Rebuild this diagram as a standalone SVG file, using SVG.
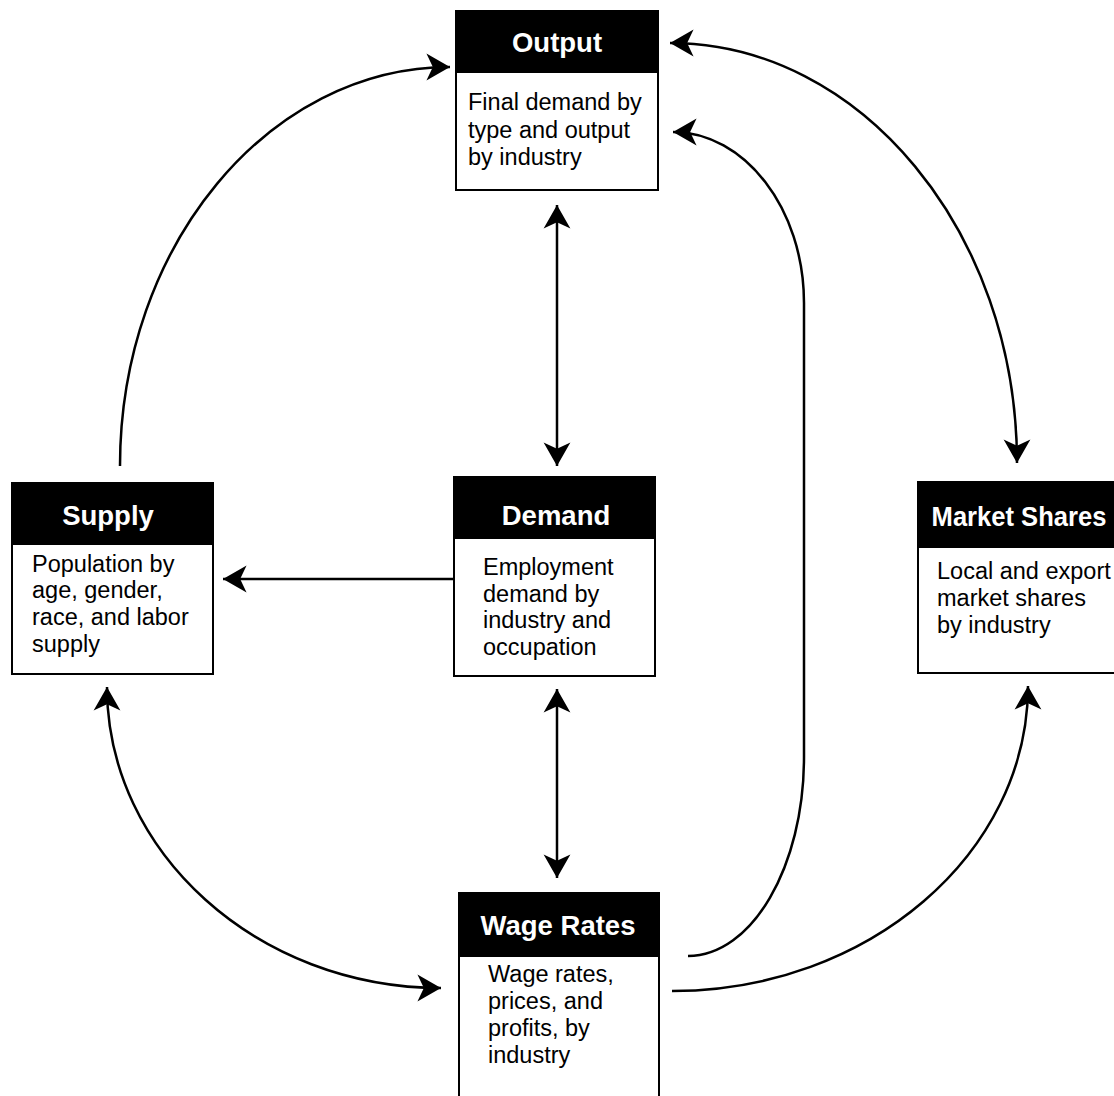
<svg xmlns="http://www.w3.org/2000/svg" width="1114" height="1096" viewBox="0 0 1114 1096">
<style>
.box{fill:#fff;stroke:#000;stroke-width:2}
.hdr{fill:#000;stroke:#000;stroke-width:2}
.ht{font-family:"Liberation Sans",Arial,sans-serif;font-weight:bold;font-size:27.5px;fill:#fff;text-anchor:middle}
.bt{font-family:"Liberation Sans",Arial,sans-serif;font-size:23.5px;fill:#000}
.c{fill:none;stroke:#000;stroke-width:2.5}
</style>
<defs>
<marker id="ah" markerUnits="userSpaceOnUse" markerWidth="30" markerHeight="30" viewBox="-24 -14 26 28" refX="0" refY="0" orient="auto-start-reverse">
<path d="M0,0 L-22,-12.5 L-16,0 L-22,12.5 Z" fill="#000"/>
</marker>
</defs>
<g id="connectors">
<path class="c" d="M120,466 C120,245.6 268.6,67 450,67" marker-end="url(#ah)"/>
<path class="c" d="M670,43 C860.6,43 1017,232 1017,463" marker-start="url(#ah)" marker-end="url(#ah)"/>
<path class="c" d="M688,956 C752,956 804,866.8 804,757 L804,303 C804,208.6 744.4,132 673,132" marker-end="url(#ah)"/>
<path class="c" d="M557,205 L557,466" marker-start="url(#ah)" marker-end="url(#ah)"/>
<path class="c" d="M455,579 L223,579" marker-end="url(#ah)"/>
<path class="c" d="M557,689 L557,878" marker-start="url(#ah)" marker-end="url(#ah)"/>
<path class="c" d="M107,687 C107,852.3 257.5,988 441,988" marker-start="url(#ah)" marker-end="url(#ah)"/>
<path class="c" d="M672,991 C868.5,991 1028,853.5 1028,686" marker-end="url(#ah)"/>
</g>
<g id="output">
<rect class="box" x="456" y="11" width="202" height="179"/>
<rect class="hdr" x="456" y="11" width="202" height="61"/>
<text class="ht" x="557" y="52">Output</text>
<text class="bt" x="468" y="110">Final demand by</text>
<text class="bt" x="468" y="137.5">type and output</text>
<text class="bt" x="468" y="165">by industry</text>
</g>
<g id="supply">
<rect class="box" x="12" y="483" width="201" height="191"/>
<rect class="hdr" x="12" y="483" width="201" height="61"/>
<text class="ht" x="108" y="524.5">Supply</text>
<text class="bt" x="32" y="571.5">Population by</text>
<text class="bt" x="32" y="598">age, gender,</text>
<text class="bt" x="32" y="625">race, and labor</text>
<text class="bt" x="32" y="651.5">supply</text>
</g>
<g id="demand">
<rect class="box" x="454" y="477" width="201" height="199"/>
<rect class="hdr" x="454" y="477" width="201" height="61"/>
<text class="ht" x="556" y="525">Demand</text>
<text class="bt" x="483" y="575">Employment</text>
<text class="bt" x="483" y="601.5">demand by</text>
<text class="bt" x="483" y="628">industry and</text>
<text class="bt" x="483" y="655">occupation</text>
</g>
<g id="market-shares">
<rect class="box" x="918" y="482" width="210" height="191"/>
<rect class="hdr" x="918" y="482" width="210" height="65"/>
<text class="ht" transform="translate(1019,526) scale(0.93,1)" x="0" y="0">Market Shares</text>
<text class="bt" x="937" y="579">Local and export</text>
<text class="bt" x="937" y="606">market shares</text>
<text class="bt" x="937" y="633">by industry</text>
</g>
<g id="wage-rates">
<rect class="box" x="459" y="893" width="200" height="210"/>
<rect class="hdr" x="459" y="893" width="200" height="63"/>
<text class="ht" x="558" y="935">Wage Rates</text>
<text class="bt" x="488" y="982">Wage rates,</text>
<text class="bt" x="488" y="1009">prices, and</text>
<text class="bt" x="488" y="1036">profits, by</text>
<text class="bt" x="488" y="1063">industry</text>
</g>
</svg>
